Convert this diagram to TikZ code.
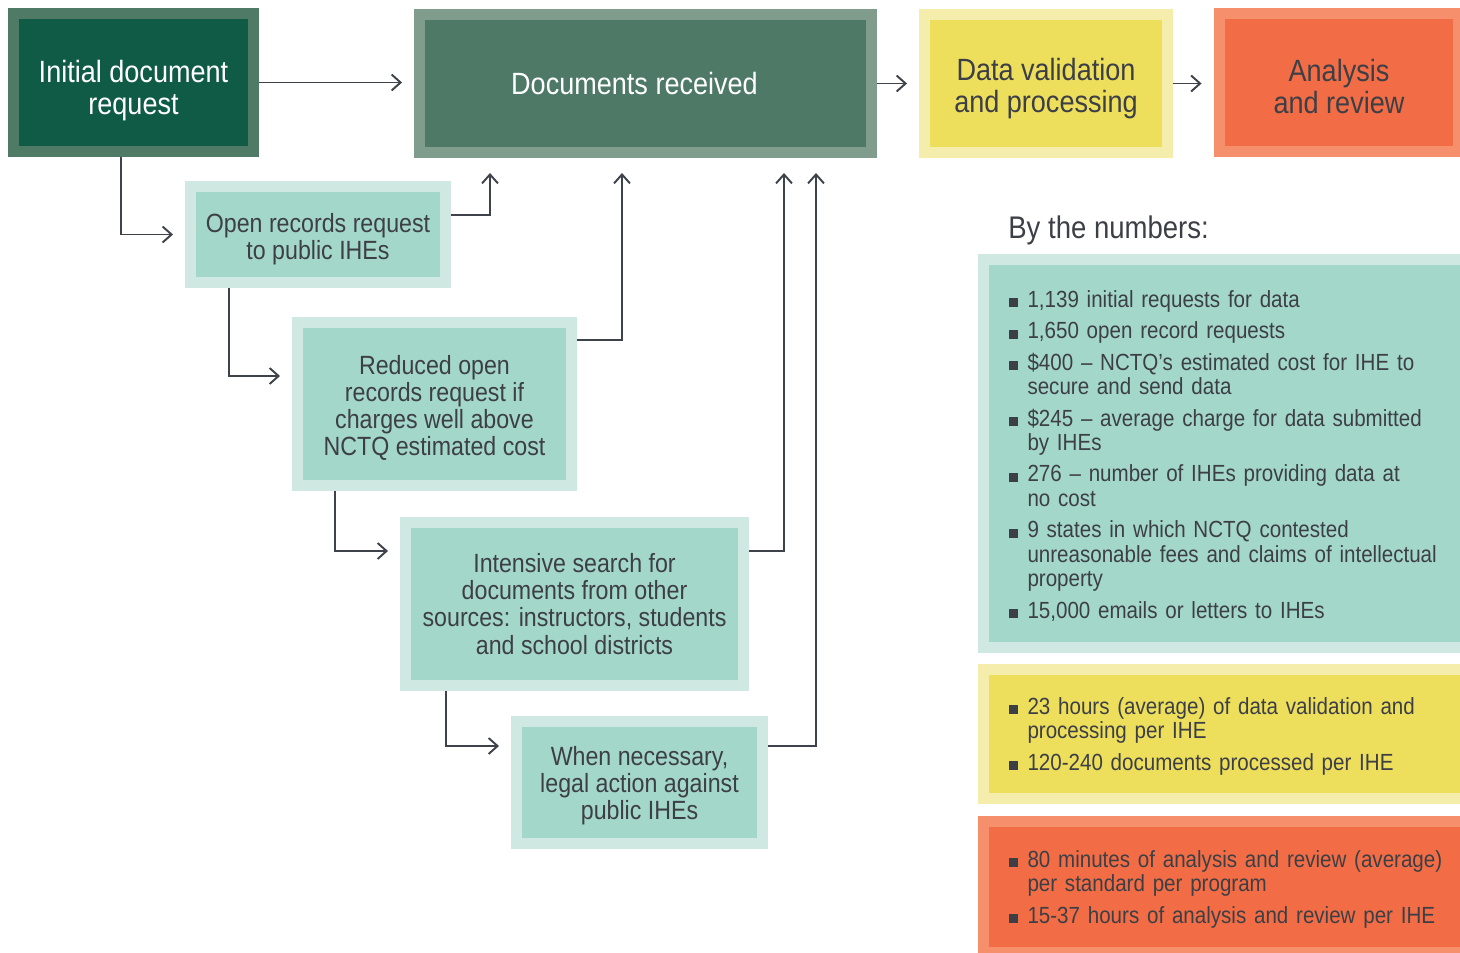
\documentclass[tikz,border=0pt]{standalone}
\usepackage{fontspec}
\setmainfont[FakeStretch=0.88]{Liberation Sans}
\usepackage{xcolor}
\usepackage{tikz}
\usetikzlibrary{positioning, arrows.meta, calc}
\definecolor{pinegreen}{HTML}{0F5B45}
\definecolor{pineedge}{HTML}{4E7A66}
\definecolor{sagegreen}{HTML}{4D7966}
\definecolor{sageedge}{HTML}{7F9C8D}
\definecolor{mintfill}{HTML}{A3D7CA}
\definecolor{mintedge}{HTML}{CFE9E2}
\definecolor{lemonfill}{HTML}{EDDF5C}
\definecolor{lemonedge}{HTML}{F5EDAB}
\definecolor{coralfill}{HTML}{F26D45}
\definecolor{coraledge}{HTML}{F58F6C}
\definecolor{inkgray}{HTML}{3D3F46}
\definecolor{wiregray}{HTML}{3E424B}

\newcommand{\lift}[1]{\rule{0pt}{#1}}
\newcommand{\fact}[1]{\par\parskip=0.14cm\hyphenpenalty=10000\exhyphenpenalty=10000
  \hangindent=0.38cm\hangafter=1\noindent
  \makebox[0.38cm][l]{\rule{0.18cm}{0.18cm}}#1}
\newcommand{\factend}{\par\kern0.2cm}

\begin{document}
\begin{tikzpicture}[x=0.02cm, y=-0.02cm,
    panel/.style={line width=0.22cm, inner sep=0pt, align=center, text=inkgray},
    stagefont/.style={font=\fontsize{17.5pt}{18.2pt}\selectfont},
    stepfont/.style={font=\fontsize{15pt}{15.4pt}\selectfont},
    darkstage/.style={panel, stagefont, fill=pinegreen, draw=pineedge, text=white},
    sagestage/.style={panel, stagefont, fill=sagegreen, draw=sageedge, text=white},
    lemonstage/.style={panel, stagefont, fill=lemonfill, draw=lemonedge},
    coralstage/.style={panel, stagefont, fill=coralfill, draw=coraledge},
    mintstep/.style={panel, stepfont, fill=mintfill, draw=mintedge},
    factbox/.style={panel, anchor=west, align=left, inner xsep=0.5cm, text width=9.3cm,
      font=\fontsize{13.3pt}{13.9pt}\selectfont, execute at end node=\factend},
    flow/.style={draw=wiregray, line width=1.1pt, shorten >=0.24cm,
      -{Straight Barb[length=0.18cm, width=0.32cm, line width=1.1pt]}},
    upflow/.style={flow, shorten >=0.3cm}]
    \useasboundingbox (0,0) rectangle (1460,953);

    % stages along the top
    \node[darkstage, minimum width=4.8cm, minimum height=2.76cm] (init) at (133.5,82.5)
      {\lift{0.78cm}Initial document\\request};
    \node[sagestage, minimum width=9.04cm, minimum height=2.76cm] (recv) at (645.5,83.5)
      {Documents received\hspace*{0.44cm}};
    \node[lemonstage, minimum width=4.86cm, minimum height=2.76cm] (valid) at (1046,83.5)
      {\lift{0.65cm}Data validation\\and processing};
    \node[coralstage, minimum width=4.8cm, minimum height=2.76cm] (anal) at (1339,82.5)
      {\lift{0.6cm}Analysis\\and review};

    % escalation steps
    \node[mintstep, minimum width=5.1cm, minimum height=1.92cm] (open) at (318,234.5)
      {\lift{0.58cm}Open records request\\to public IHEs};
    \node[mintstep, minimum width=5.48cm, minimum height=3.26cm] (reduced) at (434.5,404)
      {\lift{0.54cm}Reduced open\\records request if\\charges well above\\NCTQ estimated cost};
    \node[mintstep, minimum width=6.76cm, minimum height=3.26cm] (intens) at (574.5,604)
      {Intensive search for\\documents from other\\sources: instructors, students\\and school districts};
    \node[mintstep, minimum width=4.92cm, minimum height=2.44cm] (legal) at (639.5,782.5)
      {\lift{0.5cm}When necessary,\\legal action against\\public IHEs};

    % numbers
    \node[anchor=west, inner sep=0pt, text=inkgray, font=\fontsize{17.8pt}{18pt}\selectfont] (bynum) at (1008,230)
      {By the numbers:};
    \node[factbox, fill=mintfill, draw=mintedge, minimum height=7.76cm] (numsreq) at (978,453.5)
      {\fact{1,139 initial requests for data}
       \fact{1,650 open record requests}
       \fact{\$400 -- NCTQ's estimated cost for IHE to\newline secure and send data}
       \fact{\$245 -- average charge for data submitted\newline by IHEs}
       \fact{276 -- number of IHEs providing data at\newline no cost}
       \fact{9 states in which NCTQ contested\newline unreasonable fees and claims of intellectual\newline property}
       \fact{15,000 emails or letters to IHEs}};
    \node[factbox, fill=lemonfill, draw=lemonedge, minimum height=2.58cm] (numsval) at (978,734)
      {\fact{23 hours (average) of data validation and\newline processing per IHE}
       \fact{120-240 documents processed per IHE}};
    \node[factbox, fill=coralfill, draw=coraledge, minimum height=2.62cm] (numsrev) at (978,887)
      {\fact{80 minutes of analysis and review (average)\newline per standard per program}
       \fact{15-37 hours of analysis and review per IHE}};

    % connectors
    \draw[flow] (init.east) -- (init.east -| recv.west);
    \draw[flow] (recv.east) -- (recv.east -| valid.west);
    \draw[flow] (valid.east) -- (valid.east -| anal.west);
    \draw[flow] ($(init.south)+(-12.5,0)$) |- (open.west);
    \draw[flow] ($(open.south)+(-89,0)$) |- ($(reduced.west)+(0,-28)$);
    \draw[flow] ($(reduced.south)+(-99.5,0)$) |- ($(intens.west)+(0,-53)$);
    \draw[flow] ($(intens.south)+(-128.5,0)$) |- ($(legal.west)+(0,-36.5)$);
    \draw[upflow] ($(open.east)+(0,-19.5)$) -| ($(recv.south)+(-155.5,0)$);
    \draw[upflow] ($(reduced.east)+(0,-64)$) -| ($(recv.south)+(-23.5,0)$);
    \draw[upflow] ($(intens.east)+(0,-53)$) -| ($(recv.south)+(138.5,0)$);
    \draw[upflow] ($(legal.east)+(0,-36.5)$) -| ($(recv.south)+(170.5,0)$);
\end{tikzpicture}
\end{document}
